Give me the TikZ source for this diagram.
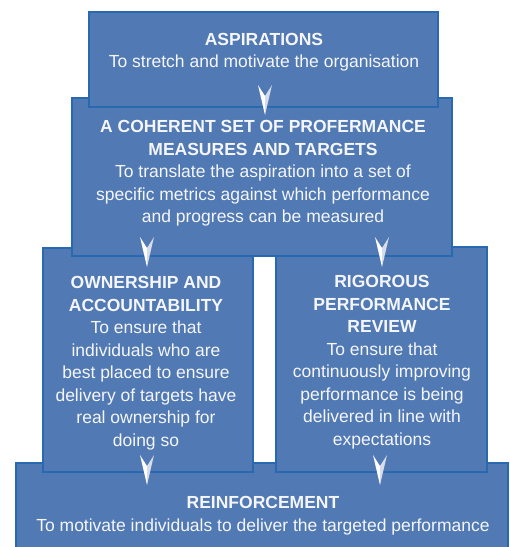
\documentclass[tikz,border=0pt]{standalone}
\usepackage{fontspec}
\setmainfont{Liberation Sans}
\definecolor{boxfill}{RGB}{81,121,179}
\definecolor{boxline}{RGB}{40,105,175}
\definecolor{chevgray}{RGB}{215,220,235}
\definecolor{txt}{RGB}{245,246,250}
\begin{document}
\begin{tikzpicture}[x=1pt,y=-1pt,
  panel/.style={draw=boxline,fill=boxfill,line width=1.2pt},
  label/.style={text=txt,align=center,inner sep=0pt,anchor=north,
    font=\fontsize{17.5}{22.5}\selectfont},
  chevron/.pic={
    \fill[white] (-7,0) -- (0,30) -- (0,11) -- cycle;
    \fill[chevgray] (0,11) -- (0,30) -- (7,0) -- cycle;
  }]
\useasboundingbox (0,0) rectangle (510,547);
\clip (0,0) rectangle (510,547);
% boxes (drawn back to front)
\draw[panel] (16,463) rectangle (508,570);
\coordinate (b5) at (262,505);
\draw[panel] (43,248) rectangle (253,472);
\coordinate (b3) at (148,360);
\draw[panel] (276,247) rectangle (487,472);
\coordinate (b4) at (381,360);
\draw[panel] (72,98) rectangle (452,256);
\coordinate (b2) at (262,177);
\draw[panel] (89,12) rectangle (438,107);
\coordinate (b1) at (263,60);
% texts
\node[label] (t1) at (264,33) {\textbf{ASPIRATIONS}\\To stretch and motivate the organisation};
\node[label] (t2) at (263,120.5) {\textbf{A COHERENT SET OF PROFERMANCE}\\\textbf{MEASURES AND TARGETS}\\To translate the aspiration into a set of\\specific metrics against which performance\\and progress can be measured};
\node[label] (t3) at (146,276.3) {\textbf{OWNERSHIP AND}\\\textbf{ACCOUNTABILITY}\\To ensure that\\individuals who are\\best placed to ensure\\delivery of targets have\\real ownership for\\doing so};
\node[label] (t4) at (382,275.3) {\textbf{RIGOROUS}\\\textbf{PERFORMANCE}\\\textbf{REVIEW}\\To ensure that\\continuously improving\\performance is being\\delivered in line with\\expectations};
\node[label] (t5) at (263,496.5) {\textbf{REINFORCEMENT}\\To motivate individuals to deliver the targeted performance};
% chevron connectors
\coordinate (c12) at (265,85);
\coordinate (c23) at (147,237);
\coordinate (c24) at (382,237);
\coordinate (c35) at (147,455);
\coordinate (c45) at (380,455);
\pic at (c12) {chevron};
\pic at (c23) {chevron};
\pic at (c24) {chevron};
\pic at (c35) {chevron};
\pic at (c45) {chevron};
\end{tikzpicture}
\end{document}
